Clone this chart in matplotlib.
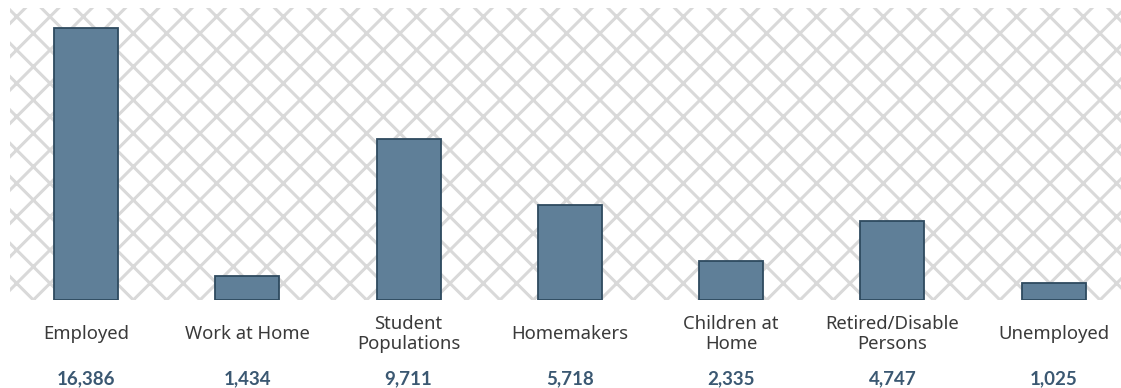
import matplotlib.pyplot as plt
from matplotlib.patches import Rectangle

categories = ["Employed", "Work at Home", "Student\nPopulations", "Homemakers",
              "Children at\nHome", "Retired/Disable\nPersons", "Unemployed"]
values = [16386, 1434, 9711, 5718, 2335, 4747, 1025]
value_labels = ["16,386", "1,434", "9,711", "5,718", "2,335", "4,747", "1,025"]

plt.rcParams['font.family'] = ['Noto Sans', 'DejaVu Sans']
plt.rcParams['hatch.linewidth'] = 2.2
plt.rcParams['hatch.color'] = '#d9d9d9'

fig = plt.figure(figsize=(11.21, 3.88), dpi=100)
ax = fig.add_axes([10 / 1121, 1 - 300 / 388, 1 - 10 / 1121, 292 / 388])

# lattice-like background
bg = Rectangle((0, 0), 1, 1, transform=ax.transAxes, facecolor='white',
               edgecolor='#d9d9d9', hatch='x', linewidth=0, zorder=0)
ax.add_patch(bg)

x = list(range(len(categories)))
ax.bar(x, values, width=0.397, color='#5f7f98', edgecolor='#2e4a5f',
       linewidth=1.3, zorder=2)

ax.set_xlim(-0.471, 6.417)
ax.set_ylim(0, 17590)
ax.axis('off')

for i, (cat, lab) in enumerate(zip(categories, value_labels)):
    ax.annotate(cat, (i, 0), xycoords=('data', 'axes fraction'),
                xytext=(0, -34), textcoords='offset pixels', ha='center',
                va='center', fontsize=13.3, color='#3a3a3a', linespacing=1.2)
    ax.annotate(lab, (i, 0), xycoords=('data', 'axes fraction'),
                xytext=(0, -79), textcoords='offset pixels', ha='center',
                va='center', fontsize=13.5, fontweight='bold', color='#3b5872',
                family=['Lato', 'DejaVu Sans'])

fig.savefig('out.png', dpi=100)
